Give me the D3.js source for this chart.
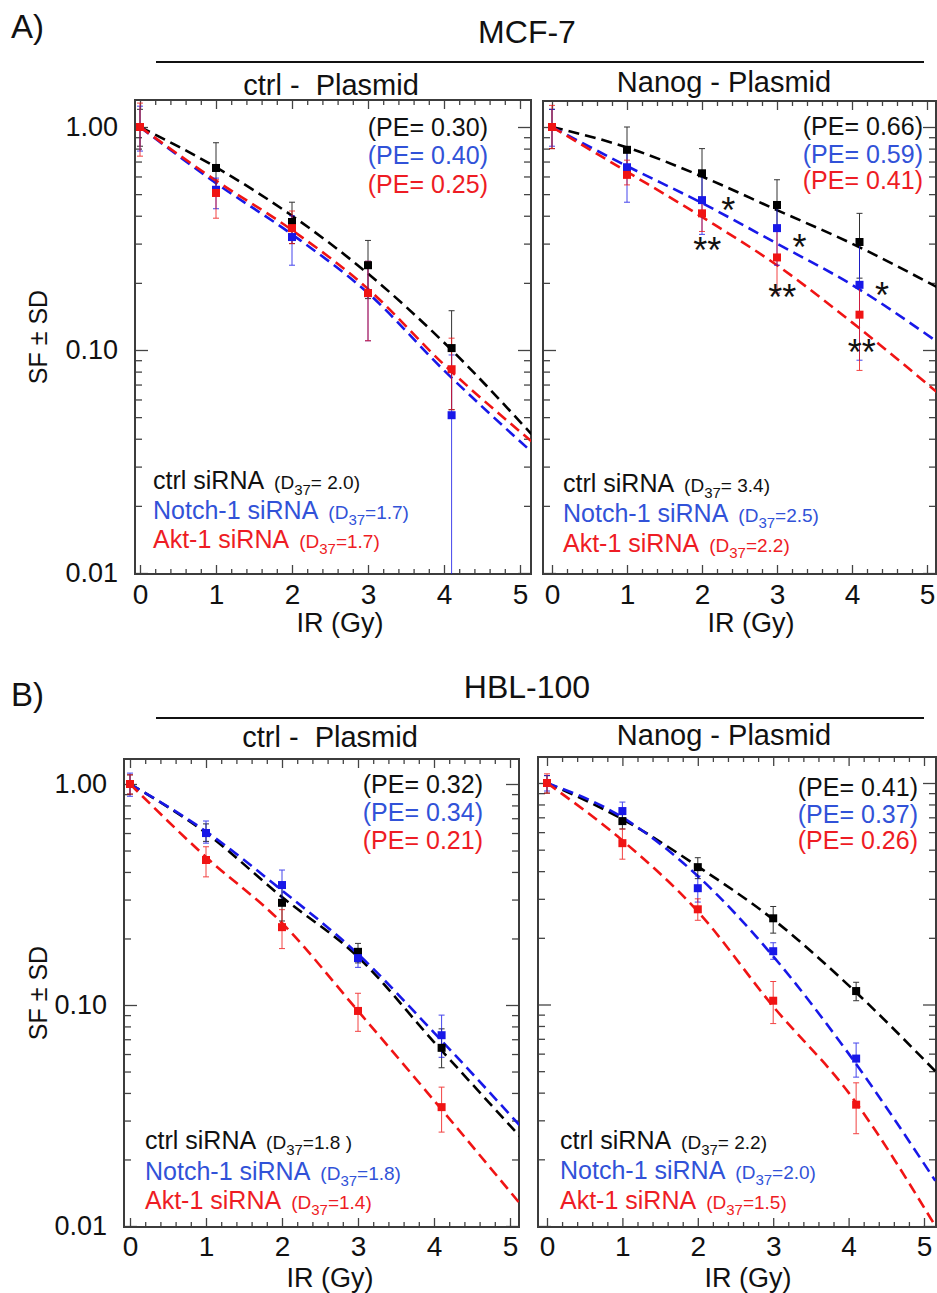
<!DOCTYPE html>
<html>
<head>
<meta charset="utf-8">
<script src="https://cdn.jsdelivr.net/npm/d3@7"></script>
<style>
  body { margin: 0; background: #fff; }
  text { font-family: "Liberation Sans", Arial, sans-serif; }
</style>
</head>
<body>
<svg id="chart" width="937" height="1293"></svg>
<script>
// ---- data ----
var seriesNames = ["ctrl siRNA", "Notch-1 siRNA", "Akt-1 siRNA"];
var rowTitles = ["MCF-7", "HBL-100"];
var panelTitles = ["ctrl -  Plasmid", "Nanog - Plasmid"];
var xTicks = [0, 1, 2, 3, 4, 5];
var yTicks = [0.01, 0.1, 1];
var fitDoses = [0, 1, 2, 3, 4, 5.15];

// MCF-7, ctrl - Plasmid   (rows: ctrl, Notch-1, Akt-1)
var dosesMcfCtrl = [0, 1, 2, 3, 4.1];
var mcfCtrlMean = [[1.00, 0.655, 0.375, 0.240, 0.102], [1.00, 0.523, 0.321, 0.180, 0.051], [1.00, 0.506, 0.352, 0.180, 0.082]];
var mcfCtrlLow  = [[0.82, 0.50, 0.30, 0.17, 0.054], [0.78, 0.43, 0.24, 0.11, 0.001], [0.74, 0.39, 0.30, 0.11, 0.054]];
var mcfCtrlHigh = [[1.20, 0.85, 0.46, 0.31, 0.150], [1.24, 0.59, 0.40, 0.25, 0.095], [1.28, 0.58, 0.42, 0.25, 0.113]];
var mcfCtrlFit  = [[1, 0.66, 0.40, 0.22, 0.108, 0.042], [1, 0.56, 0.33, 0.18, 0.081, 0.035], [1, 0.575, 0.345, 0.188, 0.086, 0.039]];
var mcfCtrlPE = ["0.30", "0.40", "0.25"];
var mcfCtrlD37 = ["= 2.0)", "=1.7)", "=1.7)"];

// MCF-7, Nanog - Plasmid
var dosesMcfNanog = [0, 1, 2, 3, 4.1];
var mcfNanogMean = [[1.00, 0.79, 0.62, 0.447, 0.305], [1.00, 0.66, 0.47, 0.352, 0.196], [1.00, 0.61, 0.41, 0.26, 0.144]];
var mcfNanogLow  = [[0.80, 0.60, 0.46, 0.34, 0.21], [0.82, 0.46, 0.33, 0.24, 0.09], [0.80, 0.55, 0.34, 0.18, 0.081]];
var mcfNanogHigh = [[1.20, 1.00, 0.80, 0.58, 0.41], [1.20, 0.78, 0.60, 0.46, 0.30], [1.25, 0.71, 0.48, 0.34, 0.20]];
var mcfNanogFit  = [[1, 0.81, 0.60, 0.424, 0.30, 0.19], [1, 0.668, 0.456, 0.30, 0.196, 0.108], [1, 0.63, 0.395, 0.24, 0.133, 0.064]];
var mcfNanogPE = ["0.66", "0.59", "0.41"];
var mcfNanogD37 = ["= 3.4)", "=2.5)", "=2.2)"];
var starDose  = [2.35, 2.07, 3.3, 3.07, 4.4, 4.13];
var starValue = [0.456, 0.302, 0.311, 0.186, 0.19, 0.105];
var starText  = ["*", "**", "*", "**", "*", "**"];

// HBL-100, ctrl - Plasmid
var dosesHblCtrl = [0, 1, 2, 3, 4.1];
var hblCtrlMean = [[1.00, 0.60, 0.29, 0.174, 0.064], [1.00, 0.60, 0.349, 0.163, 0.073], [1.00, 0.453, 0.225, 0.094, 0.0345]];
var hblCtrlLow  = [[0.90, 0.55, 0.24, 0.155, 0.052], [0.88, 0.54, 0.30, 0.148, 0.058], [0.90, 0.38, 0.18, 0.076, 0.0266]];
var hblCtrlHigh = [[1.10, 0.66, 0.34, 0.19, 0.078], [1.12, 0.68, 0.408, 0.18, 0.090], [1.10, 0.52, 0.27, 0.113, 0.0425]];
var hblCtrlFit  = [[1, 0.60, 0.308, 0.165, 0.068, 0.025], [1, 0.61, 0.33, 0.17, 0.075, 0.028], [1, 0.467, 0.235, 0.094, 0.037, 0.0124]];
var hblCtrlPE = ["0.32", "0.34", "0.21"];
var hblCtrlD37 = ["=1.8 )", "=1.8)", "=1.4)"];

// HBL-100, Nanog - Plasmid
var dosesHblNanog = [0, 1, 2, 3, 4.1];
var hblNanogMean = [[1.00, 0.673, 0.417, 0.245, 0.115], [1.00, 0.747, 0.335, 0.174, 0.057], [1.00, 0.535, 0.269, 0.104, 0.0353]];
var hblNanogLow  = [[0.90, 0.62, 0.37, 0.21, 0.104], [0.92, 0.67, 0.29, 0.16, 0.047], [0.90, 0.453, 0.24, 0.082, 0.0261]];
var hblNanogHigh = [[1.08, 0.72, 0.46, 0.277, 0.126], [1.08, 0.82, 0.38, 0.19, 0.067], [1.10, 0.62, 0.30, 0.127, 0.0443]];
var hblNanogFit  = [[1, 0.687, 0.42, 0.242, 0.122, 0.05], [1, 0.70, 0.38, 0.165, 0.060, 0.016], [1, 0.55, 0.263, 0.098, 0.040, 0.010]];
var hblNanogPE = ["0.41", "0.37", "0.26"];
var hblNanogD37 = ["= 2.2)", "=2.0)", "=1.5)"];

// ---- styling ----
var lineColors = ["#000000", "#1818e8", "#f01414"];
var textColors = ["#111111", "#3152d8", "#ee1c24"];

var svg = d3.select("#chart");
svg.append("rect").attr("width", 937).attr("height", 1293).attr("fill", "#fff");

var panels = [
  { id: "a1", row: 0, title: panelTitles[0], titleX: 331, titleY: 95,
    frame: [135, 100, 531, 574], xRange: [140, 520], yRange: [573, 127],
    doses: dosesMcfCtrl, mean: mcfCtrlMean, low: mcfCtrlLow, high: mcfCtrlHigh, fit: mcfCtrlFit,
    pe: mcfCtrlPE, d37: mcfCtrlD37, peX: 488, peY: [136, 164, 193],
    legX: 153, legY: [489, 519, 548], yLabels: true, xPad: 10, irX: 340, irY: 632 },
  { id: "a2", row: 0, title: panelTitles[1], titleX: 724, titleY: 92,
    frame: [543, 101, 936, 574], xRange: [552, 927], yRange: [573, 127],
    doses: dosesMcfNanog, mean: mcfNanogMean, low: mcfNanogLow, high: mcfNanogHigh, fit: mcfNanogFit,
    pe: mcfNanogPE, d37: mcfNanogD37, peX: 923, peY: [135, 163, 189],
    legX: 563, legY: [492, 522, 552], yLabels: false, xPad: 10, irX: 751, irY: 632, stars: true },
  { id: "b1", row: 1, title: panelTitles[0], titleX: 330, titleY: 747,
    frame: [124, 759, 519, 1227], xRange: [130, 510], yRange: [1226, 784],
    doses: dosesHblCtrl, mean: hblCtrlMean, low: hblCtrlLow, high: hblCtrlHigh, fit: hblCtrlFit,
    pe: hblCtrlPE, d37: hblCtrlD37, peX: 483, peY: [793, 821, 849],
    legX: 145, legY: [1149, 1180, 1209], yLabels: true, xPad: 9, irX: 330, irY: 1287 },
  { id: "b2", row: 1, title: panelTitles[1], titleX: 724, titleY: 745,
    frame: [538, 757, 936, 1227], xRange: [547, 924], yRange: [1226, 783],
    doses: dosesHblNanog, mean: hblNanogMean, low: hblNanogLow, high: hblNanogHigh, fit: hblNanogFit,
    pe: hblNanogPE, d37: hblNanogD37, peX: 918, peY: [796, 823, 849],
    legX: 560, legY: [1149, 1179, 1209], yLabels: false, xPad: 9, irX: 748, irY: 1287 }
];

// row headers
var rowInfo = [
  { letter: "A)", letterY: 38, titleY: 43, ruleY: 62 },
  { letter: "B)", letterY: 706, titleY: 698, ruleY: 718 }
];
rowInfo.forEach(function(r, i) {
  svg.append("text").attr("x", 11).attr("y", r.letterY).style("font-size", "33px").attr("fill", "#111").text(r.letter);
  svg.append("text").attr("x", 527).attr("y", r.titleY).attr("text-anchor", "middle")
    .style("font-size", "32px").attr("fill", "#111").text(rowTitles[i]);
  svg.append("line").attr("x1", 156).attr("x2", 924).attr("y1", r.ruleY).attr("y2", r.ruleY)
    .attr("stroke", "#111").attr("stroke-width", 2);
});

function styleAxis(sel, size) {
  sel.select(".domain").remove();
  sel.selectAll(".tick line").attr("stroke", "#444").attr("stroke-width", 1.3);
  sel.selectAll("text").style("font-size", size + "px")
    .style("font-family", '"Liberation Sans", Arial, sans-serif').attr("fill", "#111");
}

panels.forEach(function(p) {
  var x = d3.scaleLinear().domain([0, 5]).range(p.xRange);
  var y = d3.scaleLog().domain([0.01, 1]).range(p.yRange);
  var f = p.frame;
  var g = svg.append("g");

  g.append("clipPath").attr("id", "clip-" + p.id).append("rect")
    .attr("x", f[0]).attr("y", f[1]).attr("width", f[2] - f[0]).attr("height", f[3] - f[1]);

  // panel title
  g.append("text").attr("x", p.titleX).attr("y", p.titleY).attr("text-anchor", "middle")
    .attr("xml:space", "preserve").style("white-space", "pre")
    .style("font-size", "29px").attr("fill", "#111").text(p.title);

  // x ticks (minor every 0.2, major every 1), bottom and top, pointing inward
  var xMinor = d3.range(0, 27).map(function(i) { return i * 0.2; })
    .filter(function(v) { return Math.abs(v - Math.round(v)) > 1e-6 && x(v) < f[2]; });
  g.append("g").attr("transform", "translate(0," + f[3] + ")")
    .call(d3.axisBottom(x).tickValues(xMinor).tickSizeInner(-5).tickSizeOuter(0).tickFormat(""))
    .call(styleAxis, 10);
  g.append("g").attr("transform", "translate(0," + f[1] + ")")
    .call(d3.axisTop(x).tickValues(xMinor).tickSizeInner(-5).tickSizeOuter(0).tickFormat(""))
    .call(styleAxis, 10);
  g.append("g").attr("transform", "translate(0," + f[3] + ")")
    .call(d3.axisBottom(x).tickValues(xTicks).tickSizeInner(-9).tickSizeOuter(0).tickPadding(p.xPad).tickFormat(d3.format("d")))
    .call(styleAxis, 28);
  g.append("g").attr("transform", "translate(0," + f[1] + ")")
    .call(d3.axisTop(x).tickValues(xTicks).tickSizeInner(-9).tickSizeOuter(0).tickFormat(""))
    .call(styleAxis, 10);

  // y ticks (log), left and right, pointing inward
  var yMinor = [];
  [0.01, 0.1].forEach(function(d) { d3.range(2, 10).forEach(function(k) { yMinor.push(d * k); }); });
  g.append("g").attr("transform", "translate(" + f[0] + ",0)")
    .call(d3.axisLeft(y).tickValues(yMinor).tickSizeInner(-7).tickSizeOuter(0).tickFormat(""))
    .call(styleAxis, 10);
  g.append("g").attr("transform", "translate(" + f[2] + ",0)")
    .call(d3.axisRight(y).tickValues(yMinor).tickSizeInner(-7).tickSizeOuter(0).tickFormat(""))
    .call(styleAxis, 10);
  g.append("g").attr("transform", "translate(" + f[0] + ",0)")
    .call(d3.axisLeft(y).tickValues(yTicks).tickSizeInner(-13).tickSizeOuter(0).tickPadding(17)
      .tickFormat(p.yLabels ? d3.format(".2f") : ""))
    .call(styleAxis, 27);
  g.append("g").attr("transform", "translate(" + f[2] + ",0)")
    .call(d3.axisRight(y).tickValues(yTicks).tickSizeInner(-13).tickSizeOuter(0).tickFormat(""))
    .call(styleAxis, 10);

  // frame
  g.append("rect").attr("x", f[0]).attr("y", f[1]).attr("width", f[2] - f[0]).attr("height", f[3] - f[1])
    .attr("fill", "none").attr("stroke", "#3c3c3c").attr("stroke-width", 2);

  var plot = g.append("g").attr("clip-path", "url(#clip-" + p.id + ")");

  // fitted curves, dashed
  var line = d3.line()
    .x(function(d) { return x(d[0]); })
    .y(function(d) { return y(d[1]); })
    .curve(d3.curveMonotoneX);
  p.fit.forEach(function(vals, s) {
    plot.append("path")
      .attr("d", line(fitDoses.map(function(dd, i) { return [dd, vals[i]]; })))
      .attr("fill", "none").attr("stroke", lineColors[s]).attr("stroke-width", 2.6)
      .attr("stroke-dasharray", "11,6");
  });

  // error bars
  p.mean.forEach(function(vals, s) {
    vals.forEach(function(v, i) {
      var cx = x(p.doses[i]);
      var y1 = y(p.low[s][i]), y2 = y(p.high[s][i]);
      var eb = plot.append("g").attr("stroke", lineColors[s]).attr("stroke-width", 1).attr("opacity", 0.8);
      eb.append("line").attr("x1", cx).attr("x2", cx).attr("y1", y1).attr("y2", y2);
      eb.append("line").attr("x1", cx - 3).attr("x2", cx + 3).attr("y1", y1).attr("y2", y1);
      eb.append("line").attr("x1", cx - 3).attr("x2", cx + 3).attr("y1", y2).attr("y2", y2);
    });
  });

  // markers
  p.mean.forEach(function(vals, s) {
    plot.selectAll(null).data(vals).enter().append("rect")
      .attr("x", function(d, i) { return x(p.doses[i]) - 4; })
      .attr("y", function(d) { return y(d) - 4; })
      .attr("width", 8).attr("height", 8)
      .attr("fill", lineColors[s]);
  });

  // significance stars
  if (p.stars) {
    starText.forEach(function(t, i) {
      g.append("text").attr("x", x(starDose[i])).attr("y", y(starValue[i]) + 20)
        .attr("text-anchor", "middle").style("font-size", "36px").attr("fill", "#111").text(t);
    });
  }

  // plating efficiency labels
  p.pe.forEach(function(v, s) {
    g.append("text").attr("x", p.peX).attr("y", p.peY[s]).attr("text-anchor", "end")
      .style("font-size", "25px").attr("fill", textColors[s]).text("(PE= " + v + ")");
  });

  // legend with D37 values
  seriesNames.forEach(function(name, s) {
    var t = g.append("text").attr("x", p.legX).attr("y", p.legY[s])
      .attr("fill", textColors[s]).style("font-size", "25px");
    t.append("tspan").text(name);
    t.append("tspan").attr("dx", 10).style("font-size", "19px").text("(D");
    t.append("tspan").attr("dy", 6).style("font-size", "15px").text("37");
    t.append("tspan").attr("dy", -6).style("font-size", "19px").text(p.d37[s]);
  });

  // axis titles
  g.append("text").attr("x", p.irX).attr("y", p.irY).attr("text-anchor", "middle")
    .style("font-size", "27px").attr("fill", "#111").text("IR (Gy)");
  if (p.yLabels) {
    var cy = (f[1] + f[3]) / 2;
    g.append("text").attr("transform", "translate(47," + cy + ") rotate(-90)")
      .attr("text-anchor", "middle").style("font-size", "25px").attr("fill", "#111").text("SF \u00b1 SD");
  }
});
</script>
</body>
</html>
